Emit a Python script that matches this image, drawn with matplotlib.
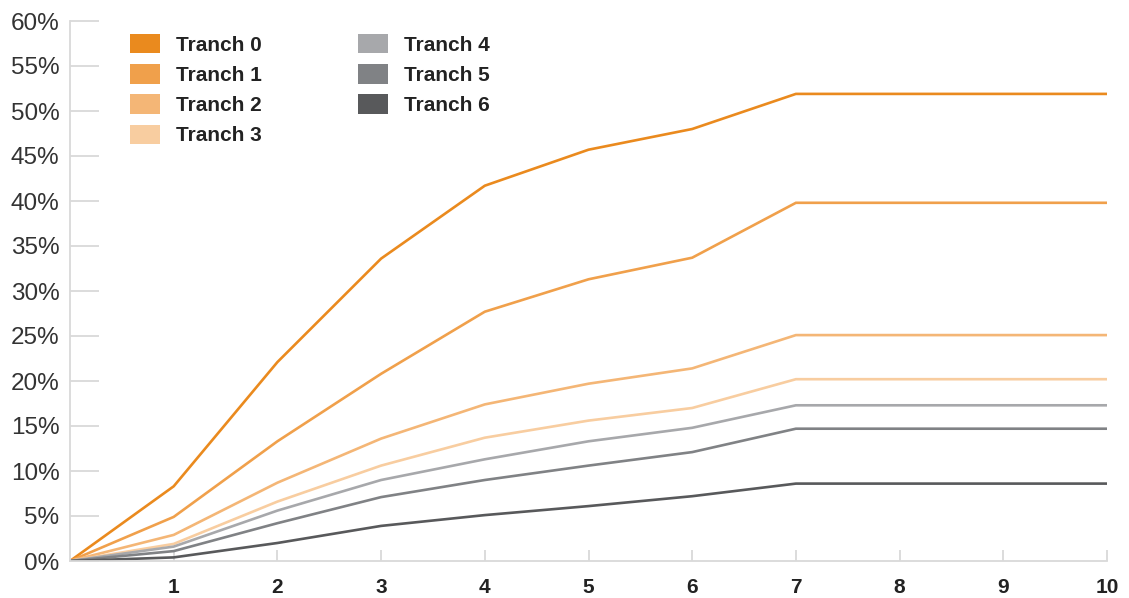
import matplotlib
matplotlib.use("Agg")
import matplotlib.pyplot as plt
from matplotlib.patches import Patch
from matplotlib.ticker import FuncFormatter

# Data
years = [0, 1, 2, 3, 4, 5, 6, 7, 8, 9, 10]
tranch_0 = [0, 8.3, 22.1, 33.6, 41.7, 45.7, 48.0, 51.9, 51.9, 51.9, 51.9]
tranch_1 = [0, 4.9, 13.3, 20.8, 27.7, 31.3, 33.7, 39.8, 39.8, 39.8, 39.8]
tranch_2 = [0, 2.9, 8.7, 13.6, 17.4, 19.7, 21.4, 25.1, 25.1, 25.1, 25.1]
tranch_3 = [0, 1.9, 6.6, 10.6, 13.7, 15.6, 17.0, 20.2, 20.2, 20.2, 20.2]
tranch_4 = [0, 1.6, 5.6, 9.0, 11.3, 13.3, 14.8, 17.3, 17.3, 17.3, 17.3]
tranch_5 = [0, 1.1, 4.2, 7.1, 9.0, 10.6, 12.1, 14.7, 14.7, 14.7, 14.7]
tranch_6 = [0, 0.4, 2.0, 3.9, 5.1, 6.1, 7.2, 8.6, 8.6, 8.6, 8.6]

series = [tranch_0, tranch_1, tranch_2, tranch_3, tranch_4, tranch_5, tranch_6]
labels = ["Tranch 0", "Tranch 1", "Tranch 2", "Tranch 3",
          "Tranch 4", "Tranch 5", "Tranch 6"]
colors = ["#EA8A1E", "#F0A04B", "#F4B676", "#F8CDA0",
          "#A7A8AB", "#808285", "#58595B"]

plt.rcParams['font.family'] = ['Liberation Sans', 'DejaVu Sans']

fig = plt.figure(figsize=(11.29, 5.98), dpi=100)
ax = fig.add_axes([70 / 1129, 37 / 598, 1037 / 1129, 540 / 598])

for vals, col in zip(series, colors):
    ax.plot(years, vals, color=col, lw=1.9, solid_joinstyle='miter')

ax.set_xlim(0, 10)
ax.set_ylim(0, 60)

axis_gray = "#D9D9D9"
for side in ['top', 'right']:
    ax.spines[side].set_visible(False)
for side in ['left', 'bottom']:
    ax.spines[side].set_color(axis_gray)
    ax.spines[side].set_linewidth(1.3)

ax.set_yticks(range(0, 61, 5))
ax.yaxis.set_major_formatter(FuncFormatter(lambda v, p: f"{int(v)}%"))
ax.tick_params(axis='y', direction='in', length=21, width=1.3, color=axis_gray,
               labelsize=17.5, labelcolor='#333333', pad=7.5)

ax.set_xticks(range(1, 11))
ax.tick_params(axis='x', direction='in', length=8, width=1.3, color=axis_gray,
               labelsize=15, labelcolor='#222222', pad=12)
for lbl in ax.get_xticklabels():
    lbl.set_fontweight('bold')

handles = [Patch(facecolor=c, edgecolor='none') for c in colors]
leg = ax.legend(handles, labels, loc='upper left',
                bbox_to_anchor=(60 / 1037, 1 - 13 / 540),
                ncol=2, frameon=False, borderpad=0, borderaxespad=0,
                handlelength=1.44, handleheight=1.06, handletextpad=0.77,
                labelspacing=0.45, columnspacing=4.6,
                prop={'size': 15, 'weight': 'bold'})
for t in leg.get_texts():
    t.set_color('#222222')

fig.savefig("out.png", dpi=100)
